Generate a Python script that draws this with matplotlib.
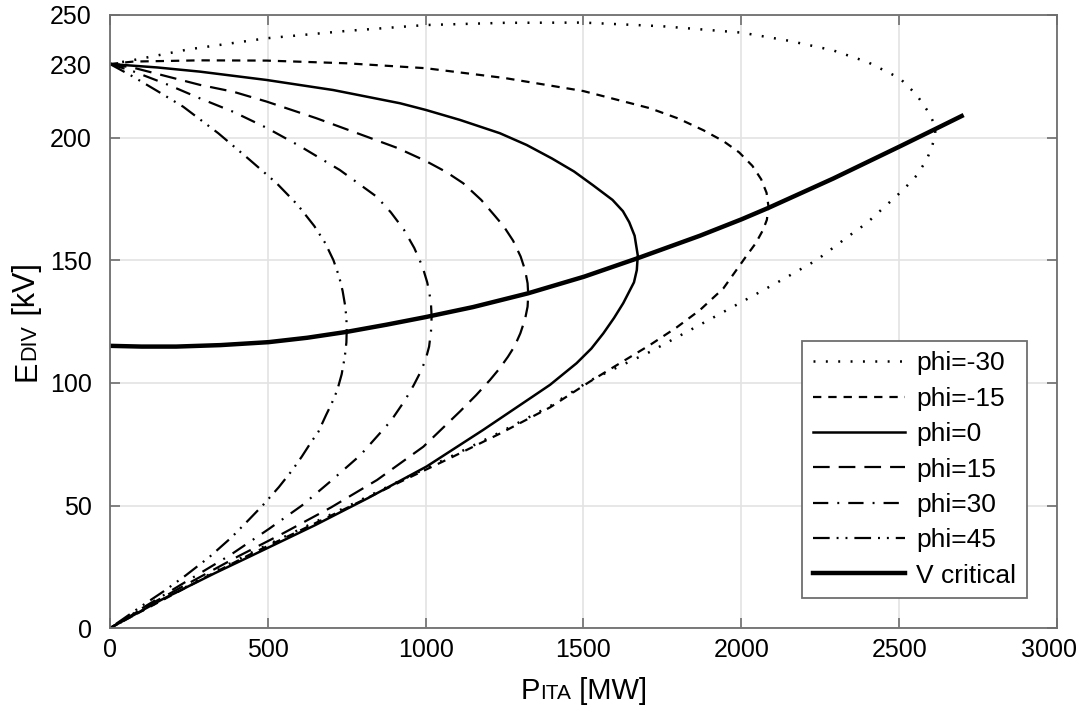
import matplotlib
matplotlib.use("Agg")
import matplotlib.pyplot as plt
from matplotlib.transforms import IdentityTransform, ScaledTranslation

plt.rcParams['font.family'] = ['Liberation Sans', 'DejaVu Sans']
plt.rcParams['lines.scale_dashes'] = False

# values (P in MW, E in kV)
p_m30 = [0, 74, 250, 496, 750, 1000, 1250, 1499, 1750, 2001, 2150, 2290, 2400, 2502, 2555, 2595,
         2613, 2615, 2603, 2587, 2555, 2513, 2460, 2397, 2345, 2239, 2133, 2027, 1922, 1816,
         1710, 1605, 1520, 1394, 1235, 1077, 919, 760, 602, 443, 300, 150, 0]
e_m30 = [230, 231.6, 236, 240.5, 243.5, 245.9, 246.8, 246.9, 245.4, 242.8, 239.5, 235.6, 230.8, 224.2, 217.5, 210,
         205, 201, 196, 190.9, 184.5, 178.7, 172.5, 165.1, 160.3, 150.1, 142.3, 134.8, 127.4, 120,
         112.6, 106.2, 100.9, 90.5, 79.8, 69.8, 60.1, 50.1, 40.3, 30.5, 20.9, 10.5, 0]

p_m15 = [0, 74, 285, 496, 750, 1000, 1250, 1499, 1710, 1800, 1880, 1944, 1993, 2035, 2063, 2080, 2086,
         2081, 2069, 2046, 2012, 1943, 1869, 1795, 1710, 1605, 1520, 1394, 1235, 1077, 919,
         760, 602, 443, 300, 150, 0]
e_m15 = [230, 231, 231.5, 231.4, 230.3, 228.3, 224.3, 219, 212, 207.8, 203, 198.5, 194, 188.5, 183, 177.5, 172,
         166.5, 162.4, 157, 151, 138.5, 129.7, 122.6, 115.4, 107.2, 100.5, 90, 79.3, 69.3, 59.6,
         49.6, 39.8, 30, 20.6, 10.3, 0]

p_0 = [0, 150, 285, 496, 707, 919, 1000, 1109, 1235, 1320, 1400, 1470, 1530, 1592, 1625, 1645,
       1662, 1672, 1669, 1660, 1640, 1626, 1597, 1563, 1525, 1478, 1394, 1340, 1182, 1003,
       817, 650, 443, 332, 162, 0]
e_0 = [230, 228.6, 226.9, 223.5, 219.4, 214, 211.3, 207.2, 201.8, 197, 191.5, 186.2, 180.6, 174.6, 170, 165.5,
       160, 152, 146, 141, 136, 132.5, 126.5, 120.2, 114, 108, 99.2, 94.5, 80.8, 65.9,
       53, 42, 29.2, 22.4, 11.5, 0]

p_15 = [0, 74, 285, 391, 496, 654, 813, 910, 1000, 1065, 1119, 1176, 1220, 1248, 1277, 1301,
        1315, 1323, 1325, 1323, 1315, 1300, 1282, 1261, 1235, 1204, 1160, 1110, 993, 846,
        700, 549, 405, 259, 114, 0]
e_15 = [230, 228.5, 221.5, 218.7, 214.7, 207.9, 200.4, 195.8, 190.5, 186, 181.4, 174.6, 168, 163.7, 158, 151.5,
        146, 140.6, 136, 131.1, 126, 120.2, 115, 110.7, 106, 101.2, 95, 88.5, 74, 60.4,
        49.2, 38.7, 29.2, 19, 8.8, 0]

p_30 = [0, 74, 185, 285, 391, 496, 602, 728, 845, 890, 931, 964, 990, 1005, 1012, 1017,
        1019, 1017, 1011, 1000, 984, 962, 935, 890, 793, 700, 608, 504, 381, 235, 90, 0]
e_30 = [230, 227, 221.5, 216, 210.5, 204, 196.5, 186.8, 175.9, 169.5, 162.5, 155, 147.4, 141, 136.6, 132,
        127, 121, 114.8, 109.5, 104.5, 99, 93, 84.5, 70.5, 60, 50, 40.5, 29.8, 18.5, 7.2, 0]

p_45 = [0, 74, 150, 232, 343, 443, 528, 595, 647, 682, 708, 726, 737, 745, 749, 750,
        749, 744, 734, 720, 702, 685, 660, 638, 608, 578, 535, 487, 440, 385, 315, 240, 170, 100, 0]
e_45 = [230, 224.8, 219, 212.6, 201.8, 190.9, 181.4, 172.5, 164, 157, 150, 143.3, 137.5, 131.5, 126.5, 121.6,
        116.5, 110.7, 103.5, 97, 91.5, 87, 80, 76, 70, 64.5, 57.5, 50.5, 44.2, 37, 29, 21.5, 15, 9, 0]

p_crit = [0, 100, 210, 350, 502, 625, 750, 875, 999, 1150, 1324, 1502, 1671, 1869, 2001, 2085,
          2291, 2502, 2613, 2698]
e_crit = [115.1, 114.8, 114.8, 115.4, 116.6, 118.4, 120.8, 123.7, 126.8, 130.9, 136.5, 143.3, 150.8, 160, 166.7, 171.3,
          183.3, 196.4, 203.4, 208.8]

labels = ['phi=-30', 'phi=-15', 'phi=0', 'phi=15', 'phi=30', 'phi=45', 'V critical']

fig = plt.figure(figsize=(10.78, 7.13), dpi=100)
ax = fig.add_axes([0.102, 0.119, 0.8785, 0.86])

ax.plot(p_m30, e_m30, color='black', lw=1.8, dashes=(1.4, 7.5), label=labels[0])
ax.plot(p_m15, e_m15, color='black', lw=1.6, dashes=(6, 5), label=labels[1])
ax.plot(p_0, e_0, color='black', lw=1.8, label=labels[2])
ax.plot(p_15, e_15, color='black', lw=1.6, dashes=(12, 6.5), label=labels[3])
ax.plot(p_30, e_30, color='black', lw=1.6, dashes=(11, 6.5, 1.4, 6.5), label=labels[4])
ax.plot(p_45, e_45, color='black', lw=1.6, dashes=(12, 5, 1.4, 5, 1.4, 5), label=labels[5])
ax.plot(p_crit, e_crit, color='black', lw=3.2, label=labels[6])

ax.set_xlim(0, 3000)
ax.set_ylim(0, 250)
ax.set_xticks([0, 500, 1000, 1500, 2000, 2500, 3000])
ax.set_yticks([0, 50, 100, 150, 200, 250])
ax.set_yticks([230], minor=True)
ax.set_yticklabels(['230'], minor=True)
ax.grid(True, which='major', color='#e3e3e3', lw=1.2)
ax.set_axisbelow(True)

for s in ax.spines.values():
    s.set_color('#6e6e6e')
    s.set_linewidth(1.3)
ax.tick_params(which='both', direction='in', length=7, width=1.2, color='#6e6e6e',
               labelsize=18, top=True, right=True)
ax.tick_params(axis='x', pad=7)
ax.tick_params(axis='y', which='both', pad=13)
ax.tick_params(axis='y', which='minor', right=False)

# keep the last x label inside the figure, as in the reference
last = ax.get_xticklabels()[-1]
last.set_transform(last.get_transform() + ScaledTranslation(-6 / 72, 0, fig.dpi_scale_trans))

leg = ax.legend(loc='lower right', bbox_to_anchor=(0.968, 0.049), borderaxespad=0,
                fontsize=19, fancybox=False, framealpha=1, edgecolor='#6e6e6e',
                handlelength=3.5, handletextpad=0.42, labelspacing=0.43, borderpad=0.4)
leg.get_frame().set_linewidth(1.3)


def mixed_label(parts, cx, cy, rotation):
    # draw text pieces of different sizes side by side on a common baseline (pixel coords)
    renderer = fig.canvas.get_renderer()
    items = []
    for s, size in parts:
        t = fig.text(0, 0, s, fontsize=size, transform=IdentityTransform(), ha='left',
                     va='baseline', rotation=rotation, rotation_mode='anchor')
        bb = t.get_window_extent(renderer)
        items.append((t, bb.height if rotation else bb.width))
    total = sum(w for _, w in items)
    pos = (cy if rotation else cx) - total / 2
    for t, w in items:
        t.set_position((cx, pos) if rotation else (pos, cy))
        pos += w


mixed_label([('P', 21), ('ITA', 15), (' [MW]', 21)], 583.5, 14, 0)
mixed_label([('E', 22), ('DIV', 15.5), (' [kV]', 22)], 35, 391, 90)

fig.savefig('out.png', dpi=100)
